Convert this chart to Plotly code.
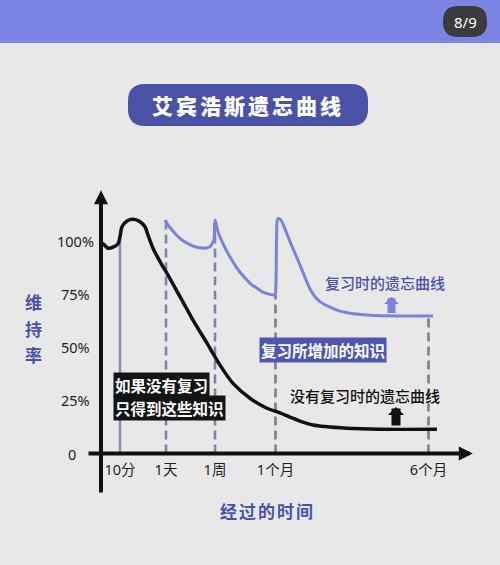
import plotly.graph_objects as go

# ---------------- data ----------------
X_TICK_POS = [19, 65, 114, 174.5, 327.5]
X_TICK_LABELS = ["10分", "1天", "1周", "1个月", "6个月"]
Y_TICK_VALS = [0, 25, 50, 75, 100]
Y_TICK_LABELS = ["0", "25%", "50%", "75%", "100%"]

# forgetting curve without review (retention %)
NO_REVIEW_X = [0, 2, 7, 12, 17, 19, 21, 26, 32, 39, 44, 47, 52, 61, 66, 79, 92, 106,
               119, 132, 149, 166, 179, 196, 212, 246, 279, 336]
NO_REVIEW_Y = [99.0, 98.7, 96.6, 97.1, 98.7, 102.0, 106.7, 109.4, 110.2, 109.1, 106.7,
               102.8, 96.6, 88.7, 84.8, 73.8, 62.8, 51.9, 41.6, 33.0, 26.0, 21.3, 19.1,
               15.8, 13.4, 11.9, 11.4, 11.4]

# forgetting curve with review (retention %)
REVIEW_X = [64, 67, 71, 76, 81, 87, 94, 99, 104, 109, 111, 113, 114, 115, 117, 121, 126,
            131, 136, 142, 149, 156, 162, 168, 174, 175, 176, 177, 179, 181, 185, 189,
            194, 199, 204, 209, 214, 219, 224, 229, 239, 249, 265, 282, 332]
REVIEW_Y = [109.9, 107.6, 105.2, 102.6, 100.5, 98.8, 97.3, 96.8, 96.6, 97.3, 98.6, 100.5,
            109.9, 108.2, 104.4, 99.8, 95.0, 90.9, 87.2, 83.6, 80.1, 77.8, 75.9, 75.0,
            74.6, 80.8, 109.0, 110.6, 110.3, 109.1, 104.5, 99.7, 94.2, 88.7, 82.9, 77.4,
            73.8, 71.5, 70.0, 68.9, 67.0, 66.0, 65.2, 64.8, 64.7]

# review moments (vertical guide lines) and their heights
GUIDE_X = [19, 65, 114, 174.5, 327.5]
GUIDE_TOP = [101.0, 110.0, 110.0, 74.6, 64.7]

# ---------------- layout helpers (decoration only) ----------------
W, H = 500, 565
PL, PR, PT, PB = 87, 473, 190, 494
XR = [-14, 372]
YR = [-19.06, 124.0]


def px(xp):
    return (xp - PL) / (PR - PL)


def py(yp):
    return (PB - yp) / (PB - PT)


def rrect(x0, y0, x1, y1, r):
    pts = [
        ("M", [(x0 + r, y0)]), ("L", [(x1 - r, y0)]), ("Q", [(x1, y0), (x1, y0 + r)]),
        ("L", [(x1, y1 - r)]), ("Q", [(x1, y1), (x1 - r, y1)]), ("L", [(x0 + r, y1)]),
        ("Q", [(x0, y1), (x0, y1 - r)]), ("L", [(x0, y0 + r)]), ("Q", [(x0, y0), (x0 + r, y0)]),
    ]
    s = ""
    for cmd, ps in pts:
        s += cmd + " ".join(f"{px(a):.5f},{py(b):.5f}" for a, b in ps) + " "
    return s + "Z"


CJK = "Noto Sans CJK SC, Noto Sans, sans-serif"
BG = "#E8E8E8"
BLUE = "#7A82DB"
DARKBLUE = "#4A52A8"

fig = go.Figure()

guide_styles = [
    dict(color="#8A8EB0", dash="solid"),
    dict(color="#7F83A6", dash="9px,5px"),
    dict(color="#7F83A6", dash="9px,5px"),
    dict(color="#7E7E88", dash="9px,5px"),
    dict(color="#7E7E88", dash="9px,5px"),
]
for gx, gt, st in zip(GUIDE_X, GUIDE_TOP, guide_styles):
    fig.add_trace(go.Scatter(x=[gx, gx], y=[0, gt], mode="lines",
                             line=dict(color=st["color"], width=2.6, dash=st["dash"]),
                             hoverinfo="skip", showlegend=False))

fig.add_trace(go.Scatter(x=REVIEW_X, y=REVIEW_Y, mode="lines", name="复习时的遗忘曲线",
                         line=dict(color=BLUE, width=3, shape="spline", smoothing=0.5),
                         showlegend=False))
fig.add_trace(go.Scatter(x=NO_REVIEW_X, y=NO_REVIEW_Y, mode="lines", name="没有复习时的遗忘曲线",
                         line=dict(color="#111111", width=3.5, shape="spline", smoothing=0.8),
                         showlegend=False))

shapes = [
    dict(type="rect", xref="paper", yref="paper", x0=px(0), x1=px(W), y0=py(43), y1=py(0),
         fillcolor="#7B83E3", line=dict(width=0), layer="below"),
    dict(type="path", xref="paper", yref="paper", path=rrect(443, 6, 487, 37, 15),
         fillcolor="#3B3B3D", line=dict(width=0)),
    dict(type="path", xref="paper", yref="paper", path=rrect(128, 84, 368, 126, 17),
         fillcolor=DARKBLUE, line=dict(width=0)),
]

ann = []
# axes with arrow heads
ann.append(dict(x=0, y=YR[1] - 0.1, ax=0, ay=YR[0], xref="x", yref="y", axref="x", ayref="y",
                text="", showarrow=True, arrowhead=2, arrowsize=0.7, arrowwidth=4,
                arrowcolor="#111111"))
ann.append(dict(x=XR[1] - 0.2, y=0, ax=XR[0], ay=0, xref="x", yref="y", axref="x", ayref="y",
                text="", showarrow=True, arrowhead=2, arrowsize=0.7, arrowwidth=4,
                arrowcolor="#111111"))
# block arrows pointing to the two curve labels
ann.append(dict(x=290.5, y=73.8, ax=290.5, ay=65.4, xref="x", yref="y", axref="x", ayref="y",
                text="", showarrow=True, arrowhead=1, arrowsize=0.31, arrowwidth=8,
                arrowcolor=BLUE))
ann.append(dict(x=295, y=21.9, ax=295, ay=12.5, xref="x", yref="y", axref="x", ayref="y",
                text="", showarrow=True, arrowhead=1, arrowsize=0.3, arrowwidth=9,
                arrowcolor="#111111"))

C = dict(xanchor="center", yanchor="middle", showarrow=False)

tickfont = dict(family="Noto Sans, Noto Sans CJK SC, sans-serif", size=14.5, color="#1E1E1E")

# y tick labels (centred in the left gutter, positioned by the y scale)
for v, lab in zip(Y_TICK_VALS, Y_TICK_LABELS):
    ann.append(dict(x=px(75 if v else 72), y=v, xref="paper", yref="y", **C,
                    text=lab, font=tickfont))

# texts
ann.append(dict(x=px(248), y=py(105), xref="paper", yref="paper", **C,
                text='<span style="letter-spacing:3px">艾宾浩斯遗忘曲线</span>',
                font=dict(family=CJK, size=21, color="white", weight=900)))
ann.append(dict(x=px(465), y=py(22), xref="paper", yref="paper", **C,
                text="8/9", font=dict(family="Noto Sans, sans-serif", size=15, color="white")))
ann.append(dict(x=px(33.5), y=py(328), xref="paper", yref="paper", **C,
                text='<span style="font-size:17px">维</span><br><span style="font-size:17px">持</span><br><span style="font-size:17px">率</span>',
                font=dict(family=CJK, size=20.5, color=DARKBLUE, weight="bold")))
ann.append(dict(x=px(267.5), y=py(510.5), xref="paper", yref="paper", **C,
                text='<span style="letter-spacing:2px">经过的时间</span>',
                font=dict(family=CJK, size=17, color=DARKBLUE, weight="bold")))

L = dict(xanchor="left", yanchor="middle", showarrow=False, borderpad=1)
ann.append(dict(x=12, y=32.2, xref="x", yref="y", **L,
                text="如果没有复习", bgcolor="#141414",
                font=dict(family=CJK, size=15.5, color="white", weight="bold")))
ann.append(dict(x=12, y=21.6, xref="x", yref="y", **L,
                text="只得到这些知识", bgcolor="#141414",
                font=dict(family=CJK, size=15.5, color="white", weight="bold")))
ann.append(dict(x=158, y=48.5, xref="x", yref="y", **L,
                text="复习所增加的知识", bgcolor="#4E56B0",
                font=dict(family=CJK, size=15.5, color="white", weight="bold")))
ann.append(dict(x=284, y=80.5, xref="x", yref="y", **C,
                text="复习时的遗忘曲线",
                font=dict(family=CJK, size=15, color=DARKBLUE, weight=500)))
ann.append(dict(x=264, y=27.1, xref="x", yref="y", **C,
                text="没有复习时的遗忘曲线",
                font=dict(family=CJK, size=15, color="#111111", weight=500)))

fig.update_layout(
    width=W, height=H,
    margin=dict(l=PL, r=W - PR, t=PT, b=H - PB),
    paper_bgcolor=BG, plot_bgcolor="rgba(0,0,0,0)",
    showlegend=False,
    shapes=shapes, annotations=ann,
    xaxis=dict(range=XR, showgrid=False, zeroline=False, showline=False,
               tickmode="array", tickvals=X_TICK_POS, ticktext=X_TICK_LABELS,
               ticks="outside", ticklen=3, tickcolor="rgba(0,0,0,0)",
               tickfont=tickfont, anchor="free", position=py(454), fixedrange=True),
    yaxis=dict(range=YR, showgrid=False, zeroline=False, showline=False,
               tickmode="array", tickvals=Y_TICK_VALS, showticklabels=False,
               ticks="", anchor="free", position=px(101), fixedrange=True),
)

fig.write_html("out.html", config={"displayModeBar": False},
               post_script="document.body.style.margin='0';document.body.style.background='#E8E8E8';")
